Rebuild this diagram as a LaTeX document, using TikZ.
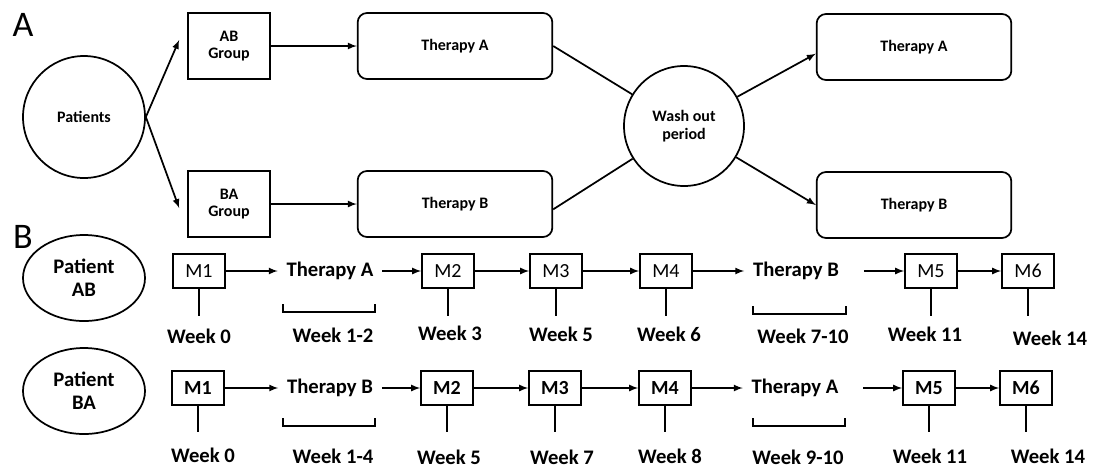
\documentclass[tikz,border=0pt]{standalone}
\usepackage{fontspec}
\setmainfont{Carlito}
\usetikzlibrary{positioning}
\usetikzlibrary{shapes.geometric}
\usetikzlibrary{arrows}
\tikzset{
  every node/.style={
    align=center,
    draw=none,
    font=\bfseries\fontsize{12}{13}\selectfont,
  },
  >=latex,
  panel/.style={font=\fontsize{27}{27}\selectfont},
  roundnode/.style={draw, circle},
  groupbox/.style={draw, minimum width=61.5pt, minimum height=49.5pt},
  therapybox/.style={draw, rounded corners=7pt, minimum width=146pt, minimum height=49.5pt},
  patient/.style={draw, ellipse, minimum width=91.5pt, minimum height=64.5pt,
    font=\bfseries\fontsize{15.5}{17}\selectfont},
  mbox/.style={draw, minimum width=39pt, minimum height=26pt, inner sep=1pt,
    font=\fontsize{15}{16}\selectfont},
  mboxb/.style={mbox, font=\bfseries\fontsize{15}{16}\selectfont},
  therapytext/.style={inner xsep=6pt, font=\bfseries\fontsize{15.5}{17}\selectfont},
  weektext/.style={inner sep=1pt, font=\bfseries\fontsize{15.5}{17}\selectfont},
}

\begin{document}
\begin{tikzpicture}[x=0.75pt, y=-0.75pt, line width=1.3pt]
  \useasboundingbox (0,0) rectangle (1094,469);

  % part A
  \node[panel] (labA) at (23,25) {A};
  \node[roundnode, minimum size=91.5pt] (pat) at (84,117) {Patients};
  \node[groupbox] (ab) at (229,46) {AB\\Group};
  \node[groupbox] (ba) at (229,204) {BA\\Group};
  \node[therapybox] (thA) at (455,46) {Therapy A};
  \node[therapybox] (thB) at (455,204) {Therapy B};
  \node[roundnode, minimum size=90pt] (wash) at (684,126) {Wash out\\period};
  \node[therapybox] (thA2) at (914,47) {Therapy A};
  \node[therapybox] (thB2) at (914,205) {Therapy B};

  \draw[->] (pat.east) -- ([shift={(-6pt,4.5pt)}]ab.west);
  \draw[->] (pat.east) -- ([shift={(-6pt,-3pt)}]ba.west);
  \draw[->] (ab) -- (thA);
  \draw[->] (ba) -- (thB);
  \draw (thA.east) -- (wash);
  \draw ([yshift=-4pt]thB.east) -- (wash);
  \draw[->] (wash) -- ([yshift=-5pt]thA2.west);
  \draw[->] (wash) -- (thB2.west);

  % part B
  \node[panel] (labB) at (23,237) {B};
  \node[patient] (pab) at (84,278) {Patient\\AB};
  \node[patient] (pba) at (84,391) {Patient\\BA};

  % patient AB
  \node[mbox] (ab1) at (199,271) {M1};
  \node[therapytext] (abtA) at (330,271) {Therapy A};
  \node[mbox] (ab2) at (448,271) {M2};
  \node[mbox] (ab3) at (556,271) {M3};
  \node[mbox] (ab4) at (666,271) {M4};
  \node[therapytext] (abtB) at (796,271) {Therapy B};
  \node[mbox] (ab5) at (931,271) {M5};
  \node[mbox] (ab6) at (1028,271) {M6};

  \node[weektext] (abw0) at (199,336) {Week 0};
  \node[weektext] (abw12) at (333,335) {Week 1-2};
  \node[weektext] (abw3) at (450,333) {Week 3};
  \node[weektext] (abw5) at (561,334) {Week 5};
  \node[weektext] (abw6) at (669,334) {Week 6};
  \node[weektext] (abw710) at (803,336) {Week 7-10};
  \node[weektext] (abw11) at (925,334) {Week 11};
  \node[weektext] (abw14) at (1050,338) {Week 14};

  \draw[->] (ab1) -- (abtA);
  \draw[->] (abtA) -- (ab2);
  \draw[->] (ab2) -- (ab3);
  \draw[->] (ab3) -- (ab4);
  \draw[->] (ab4) -- (abtB);
  \draw[->, shorten <=12pt] (abtB) -- (ab5);
  \draw[->] (ab5) -- (ab6);

  % patient BA
  \node[mboxb] (ba1) at (198,388) {M1};
  \node[therapytext] (batB) at (330,388) {Therapy B};
  \node[mboxb] (ba2) at (447,388) {M2};
  \node[mboxb] (ba3) at (555,388) {M3};
  \node[mboxb] (ba4) at (665,388) {M4};
  \node[therapytext] (batA) at (795,388) {Therapy A};
  \node[mboxb] (ba5) at (929,388) {M5};
  \node[mboxb] (ba6) at (1026,388) {M6};

  \node[weektext] (baw0) at (203,455) {Week 0};
  \node[weektext] (baw14) at (333,456) {Week 1-4};
  \node[weektext] (baw5) at (449,457) {Week 5};
  \node[weektext] (baw7) at (562,457) {Week 7};
  \node[weektext] (baw8) at (670,456) {Week 8};
  \node[weektext] (baw910) at (798,457) {Week 9-10};
  \node[weektext] (baw11) at (930,456) {Week 11};
  \node[weektext] (baw14b) at (1048,456) {Week 14};

  \draw[->] (ba1) -- (batB);
  \draw[->] (batB) -- (ba2);
  \draw[->] (ba2) -- (ba3);
  \draw[->] (ba3) -- (ba4);
  \draw[->] (ba4) -- (batA);
  \draw[->, shorten <=12pt] (batA) -- (ba5);
  \draw[->] (ba5) -- (ba6);

  % stems under the measurements
  \foreach \m in {ab1,ab2,ab3,ab4,ab5,ab6}
    \draw (\m.south) -- ++(0,27);
  \foreach \m in {ba1,ba2,ba3,ba4,ba5,ba6}
    \draw (\m.south) -- ++(0,26);

  % brackets under the therapies
  \foreach \xa/\xb/\yy in {283/375/304, 753/846/306, 283/375/418, 753/845/418}
    \draw (\xa,\yy) -- ++(0,8) -| (\xb,\yy);
\end{tikzpicture}
\end{document}
